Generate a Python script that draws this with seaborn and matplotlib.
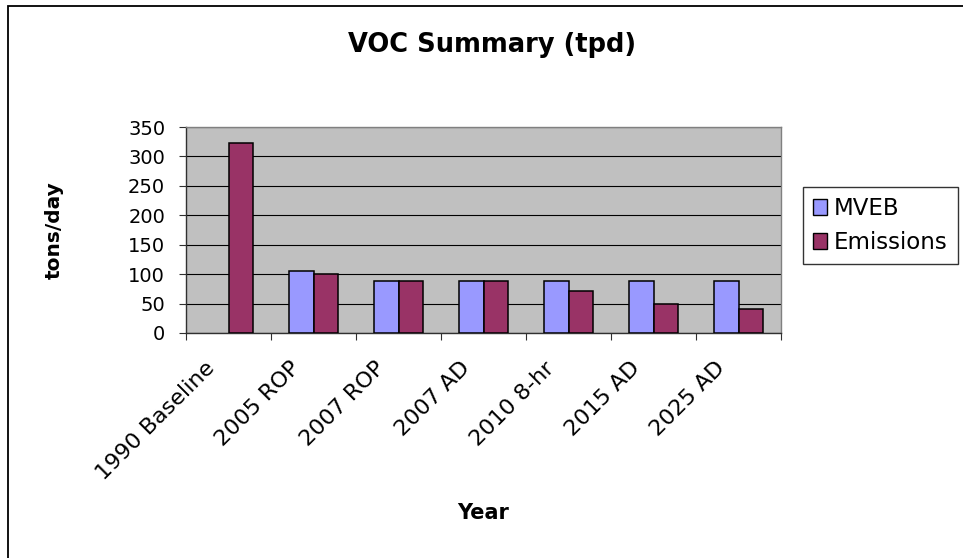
import numpy as np
import pandas as pd
import matplotlib
matplotlib.use("Agg")
import matplotlib.pyplot as plt
import matplotlib.transforms as mtransforms
from matplotlib.patches import Rectangle
import seaborn as sns

# values (tons/day)
categories = ["1990 Baseline", "2005 ROP", "2007 ROP", "2007 AD",
              "2010 8-hr", "2015 AD", "2025 AD"]
mveb = [np.nan, 105, 88, 88, 88, 88, 88]
emissions = [322, 101, 88, 88, 71, 50, 41]
series_names = ["MVEB", "Emissions"]
y_ticks = [0, 50, 100, 150, 200, 250, 300, 350]

df = pd.DataFrame({
    "Year": categories * 2,
    "tons/day": mveb + emissions,
    "series": [series_names[0]] * len(categories) + [series_names[1]] * len(categories),
})

sns.set_style("white")
plt.rcParams["font.family"] = ["DejaVu Sans"]
plt.rcParams.update({"text.color": "black", "axes.labelcolor": "black",
                     "xtick.color": "black", "ytick.color": "black"})

W, H = 963, 558
fig = plt.figure(figsize=(W / 100, H / 100), dpi=100)
ax = fig.add_axes([186 / W, 1 - 333 / H, (781 - 186) / W, 206 / H])

palette = {"MVEB": "#9999FF", "Emissions": "#993366"}
sns.barplot(
    data=df, x="Year", y="tons/day", hue="series",
    hue_order=series_names, order=categories,
    palette=palette, saturation=1, width=0.57, gap=0, errorbar=None,
    edgecolor="black", linewidth=1.1, ax=ax, legend=False,
    zorder=3,
)

ax.set_facecolor("#C0C0C0")
ax.set_ylim(0, 350)
ax.set_xlim(-0.5, len(categories) - 0.5)
ax.set_yticks(y_ticks)
ax.yaxis.grid(True, color="black", linewidth=0.8, zorder=0)
ax.set_axisbelow(True)

for side in ["top", "right"]:
    ax.spines[side].set_color("#808080")
    ax.spines[side].set_linewidth(1.0)
for side in ["left", "bottom"]:
    ax.spines[side].set_color("#303030")
    ax.spines[side].set_linewidth(1.0)

ax.tick_params(axis="y", direction="out", length=5, width=0.8,
               color="#303030", labelsize=14, pad=10, left=True)
ax.set_xticks(np.arange(len(categories)))
ax.set_xticks(np.arange(-0.5, len(categories)), minor=True)
ax.tick_params(axis="x", which="minor", direction="out", length=5,
               width=0.8, color="#303030", bottom=True)
ax.tick_params(axis="x", which="major", length=0, pad=23, labelsize=16)
ax.set_xticklabels(categories, rotation=45, ha="right", va="center",
                   rotation_mode="anchor")
shift = mtransforms.ScaledTranslation(-17 / 100, 0, fig.dpi_scale_trans)
for lbl in ax.get_xticklabels():
    lbl.set_transform(lbl.get_transform() + shift)

ax.set_xlabel("Year", fontsize=15, fontweight="bold", va="top")
ax.xaxis.set_label_coords(0.5, (333 - 503) / 206)
ax.set_ylabel("tons/day", fontsize=14.5, fontweight="bold")
ax.yaxis.set_label_coords((64 - 186) / 595, 0.5)

fig.text(492 / W, 1 - 52 / H, "VOC Summary (tpd)", ha="center",
         va="baseline", fontsize=18.5, fontweight="bold")

handles = [Rectangle((0, 0), 1, 1, facecolor=palette[s], edgecolor="black",
                     linewidth=1.0) for s in series_names]
leg = fig.legend(handles, series_names, loc="upper left",
                 bbox_to_anchor=(803 / W, 1 - 187 / H), fontsize=16.5,
                 frameon=True, fancybox=False, edgecolor="black",
                 handlelength=0.6, handleheight=0.7, handletextpad=0.3,
                 borderpad=0.45, labelspacing=0.45, borderaxespad=0)
leg.get_frame().set_linewidth(1.0)

# chart border (runs off the right and bottom edges)
fig.patches.append(Rectangle((8 / W, -0.05), 1.1, 1 - 6 / H + 0.05,
                             transform=fig.transFigure, fill=False,
                             edgecolor="black", linewidth=1.3))

fig.savefig("out.png", dpi=100)
